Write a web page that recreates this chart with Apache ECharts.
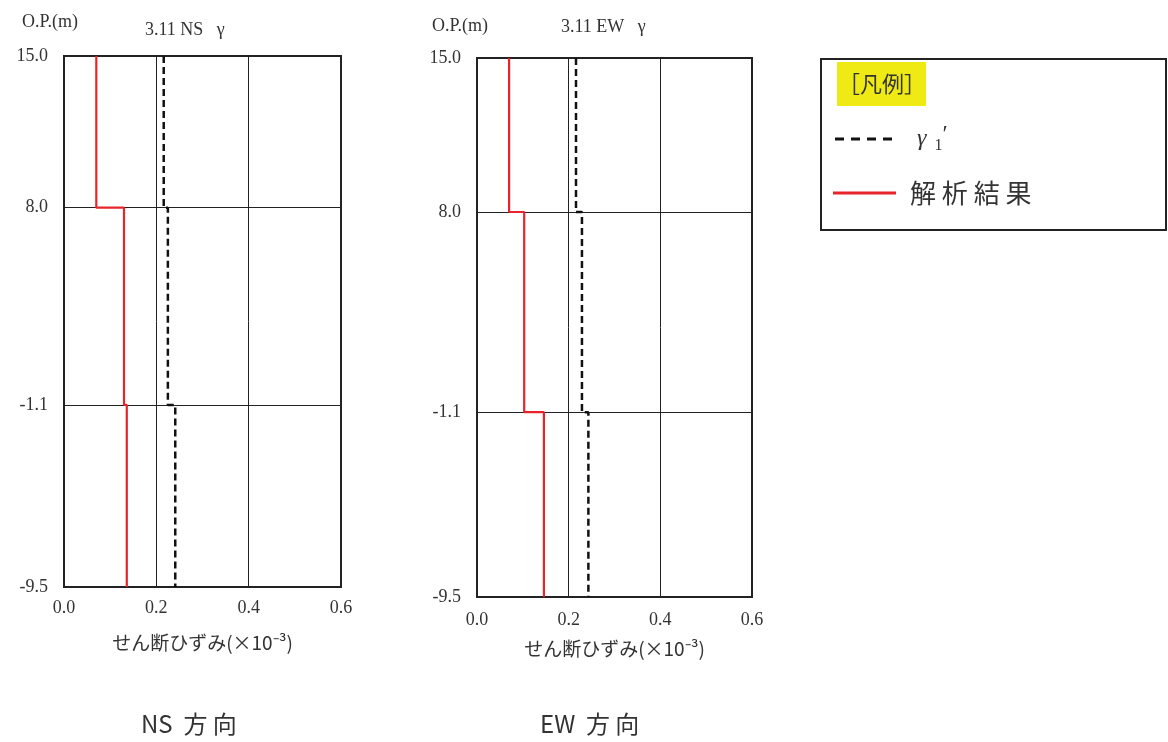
<!DOCTYPE html>
<html>
<head>
<meta charset="utf-8">
<script src="https://cdn.jsdelivr.net/npm/echarts@6/dist/echarts.min.js"></script>
<style>
html,body{margin:0;padding:0;background:#fff;}
#chart{width:1168px;height:742px;}
</style>
</head>
<body>
<div id="chart"></div>
<script>
// ---- data ----
const layerBoundaries = [15.0, 8.0, -1.1, -9.5];      // O.P.(m)
const yTickValues = [15.0, 8.0, -1.1, -9.5];
const xTickValues = [0.0, 0.2, 0.4, 0.6];
const nsAnalysis = [0.070, 0.130, 0.136];   // 解析結果 NS
const nsGamma1 = [0.216, 0.225, 0.241];     // γ1' NS
const ewAnalysis = [0.070, 0.103, 0.146];   // 解析結果 EW
const ewGamma1 = [0.216, 0.229, 0.243];     // γ1' EW

function stepData(vals) {
  const out = [];
  for (let i = 0; i < vals.length; i++) {
    out.push([vals[i], layerBoundaries[i]]);
    out.push([vals[i], layerBoundaries[i + 1]]);
  }
  return out;
}

const serifFont = "'Liberation Serif','DejaVu Serif','Noto Sans CJK JP',serif";
const cjkFont = "'Noto Sans CJK JP','Liberation Serif',sans-serif";
const red = '#e8242b';

function xAxis(gi) {
  return {
    type: 'value', gridIndex: gi, min: 0, max: 0.6, interval: 0.2,
    name: 'せん断ひずみ(×10⁻³)', nameLocation: 'middle', nameGap: gi === 0 ? 46 : 42,
    nameTextStyle: {fontFamily: cjkFont, fontSize: 19, color: '#333'},
    axisLine: {show: false}, axisTick: {show: false},
    axisLabel: {fontFamily: serifFont, fontSize: 18, color: '#333', margin: gi === 0 ? 12 : 14,
      formatter: v => v.toFixed(1)},
    splitLine: {show: true, lineStyle: {color: '#222', width: 1}}
  };
}
function yAxis(gi) {
  return {
    type: 'value', gridIndex: gi, min: -9.5, max: 15.0,
    axisLine: {show: false},
    axisTick: {show: false, customValues: yTickValues},
    axisLabel: {fontFamily: serifFont, fontSize: 18, color: '#333', margin: 16,
      customValues: yTickValues, formatter: v => v.toFixed(1)},
    splitLine: {show: true, lineStyle: {color: '#222', width: 1}}
  };
}

const chart = echarts.init(document.getElementById('chart'), null, {renderer: 'canvas'});
chart.setOption({
  backgroundColor: '#fff',
  animation: false,
  title: [
    {text: 'O.P.(m)', left: 17, top: 8, textStyle: {fontFamily: serifFont, fontSize: 18, fontWeight: 'normal', color: '#333'}},
    {text: '3.11 NS   γ', left: 140, top: 16, textStyle: {fontFamily: serifFont, fontSize: 18, fontWeight: 'normal', color: '#333'}},
    {text: 'O.P.(m)', left: 427, top: 12, textStyle: {fontFamily: serifFont, fontSize: 18, fontWeight: 'normal', color: '#333'}},
    {text: '3.11 EW   γ', left: 556, top: 13, textStyle: {fontFamily: serifFont, fontSize: 18, fontWeight: 'normal', color: '#333'}},
    {text: 'NS  方 向', left: 136, top: 707, textStyle: {fontFamily: cjkFont, fontSize: 24, fontWeight: 'normal', color: '#333'}},
    {text: 'EW  方 向', left: 535, top: 707, textStyle: {fontFamily: cjkFont, fontSize: 24, fontWeight: 'normal', color: '#333'}}
  ],
  grid: [
    {left: 64, top: 56, width: 277, height: 531, show: true, borderColor: '#222', borderWidth: 2, backgroundColor: 'transparent'},
    {left: 477, top: 58, width: 275, height: 539, show: true, borderColor: '#222', borderWidth: 2, backgroundColor: 'transparent'}
  ],
  xAxis: [xAxis(0), xAxis(1)],
  yAxis: [yAxis(0), yAxis(1)],
  series: [
    {name: "γ1'", type: 'line', xAxisIndex: 0, yAxisIndex: 0, data: stepData(nsGamma1), symbol: 'none',
      lineStyle: {color: '#111', width: 2.5, type: [7, 4]}, z: 3},
    {name: '解析結果', type: 'line', xAxisIndex: 0, yAxisIndex: 0, data: stepData(nsAnalysis), symbol: 'none',
      lineStyle: {color: red, width: 2.2}, z: 4},
    {name: "γ1'", type: 'line', xAxisIndex: 1, yAxisIndex: 1, data: stepData(ewGamma1), symbol: 'none',
      lineStyle: {color: '#111', width: 2.5, type: [7, 4]}, z: 3},
    {name: '解析結果', type: 'line', xAxisIndex: 1, yAxisIndex: 1, data: stepData(ewAnalysis), symbol: 'none',
      lineStyle: {color: red, width: 2.2}, z: 4}
  ],
  graphic: [
    {type: 'rect', shape: {x: 821, y: 59, width: 345, height: 171}, style: {fill: '#fff', stroke: '#222', lineWidth: 2}},
    {type: 'rect', shape: {x: 837, y: 62, width: 89, height: 44}, style: {fill: '#f0ea14'}},
    {type: 'text', x: 838, y: 84, style: {text: '［凡例］', font: "22px 'Noto Sans CJK JP'", fill: '#333', verticalAlign: 'middle'}},
    {type: 'line', shape: {x1: 835, y1: 139, x2: 897, y2: 139}, style: {stroke: '#111', lineWidth: 3, lineDash: [9, 7]}},
    {type: 'text', x: 917, y: 139, style: {
      text: '{g|γ}{s|1}{p|′}', verticalAlign: 'middle',
      rich: {
        g: {font: "italic 24px 'Liberation Serif'", fill: '#333', padding: [0, 8, 0, 0]},
        s: {font: "16px 'Liberation Serif'", fill: '#333', padding: [14, 0, 0, 0]},
        p: {font: "24px 'Liberation Serif'", fill: '#333', padding: [0, 0, 8, 0]}
      }}},
    {type: 'line', shape: {x1: 833, y1: 193, x2: 896, y2: 193}, style: {stroke: red, lineWidth: 3}},
    {type: 'text', x: 910, y: 193, style: {text: '解 析 結 果', font: "26px 'Noto Sans CJK JP'", fill: '#333', verticalAlign: 'middle'}}
  ]
});
</script>
</body>
</html>
